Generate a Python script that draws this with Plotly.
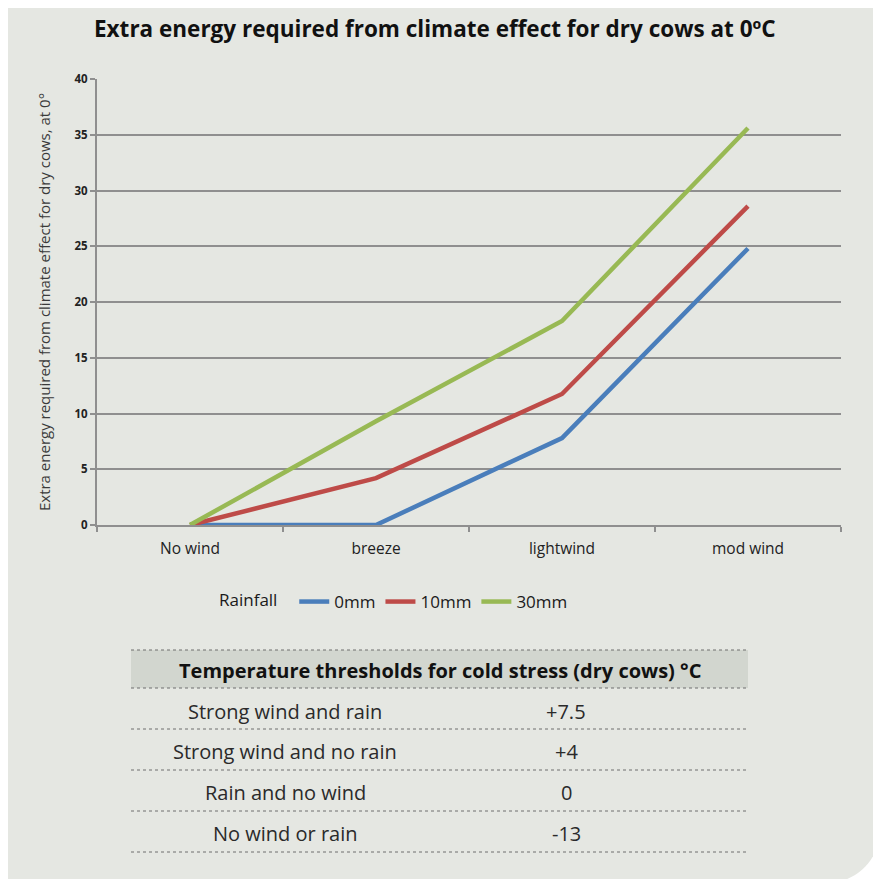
import plotly.graph_objects as go

# page has an 8px body margin, so the figure is drawn 8px in from the window edge
OFF = 8
FW, FH = 881 - OFF, 879 - OFF

# ---------------- data ----------------
categories = ["No wind", "breeze", "lightwind", "mod wind"]
rain_0mm = [0, 0, 7.8, 24.8]
rain_10mm = [0, 4.2, 11.75, 28.6]
rain_30mm = [0, 9.3, 18.3, 35.6]
series_names = ["0mm", "10mm", "30mm"]
series_colors = ["#4a7ebb", "#be4b48", "#98b954"]

table_title = "Temperature thresholds for cold stress (dry cows) °C"
table_conditions = ["Strong wind and rain", "Strong wind and no rain", "Rain and no wind", "No wind or rain"]
table_thresholds = ["+7.5", "+4", "0", "-13"]

chart_title = "Extra energy required from climate effect for dry cows at 0ºC"
y_title = "Extra energy required from climate effect for dry cows, at 0°"

# ---------------- helpers (window pixel -> paper fraction) ----------------
def px(x):
    return (x - OFF) / FW

def py(y):
    return 1 - (y - OFF) / FH

FONT = "Open Sans"
PANEL = "#e5e7e2"
GRID = "#8f8f8f"

fig = go.Figure()
for name, vals, col in zip(series_names, [rain_0mm, rain_10mm, rain_30mm], series_colors):
    fig.add_trace(go.Scatter(x=categories, y=vals, mode="lines", name=name,
                             line=dict(color=col, width=4.5)))

shapes = []
# panel with rounded bottom-right corner
r = 53
k = 0.5523 * r
x0, y0, x1 = 5, 4, 880
cx, cy = x1 - r, 830
path = (f"M {px(x0)},{py(y0)} L {px(x1)},{py(y0)} L {px(x1)},{py(cy)} "
        f"C {px(x1)},{py(cy + k)} {px(cx + k)},{py(cy + r)} {px(cx)},{py(cy + r)} "
        f"L {px(x0)},{py(cy + r)} Z")
shapes.append(dict(type="path", xref="paper", yref="paper", path=path,
                   fillcolor=PANEL, line=dict(width=0), layer="below"))

# table header band and dotted row rules
tx0, tx1 = 131, 748
row_lines = [650, 688, 729, 770, 811, 852]
shapes.append(dict(type="rect", xref="paper", yref="paper",
                   x0=px(tx0), x1=px(tx1), y0=py(row_lines[0]), y1=py(row_lines[1]),
                   fillcolor="#d2d6cf", line=dict(width=0), layer="below"))
for yl in row_lines:
    shapes.append(dict(type="line", xref="paper", yref="paper",
                       x0=px(tx0), x1=px(tx1), y0=py(yl), y1=py(yl),
                       line=dict(color="#6e6e6e", width=1, dash="dot")))

annotations = [
    dict(text=f"<b>{chart_title}</b>", xref="paper", yref="paper", x=px(435), y=py(29),
         showarrow=False, font=dict(family=FONT, size=22.5, color="#111111"),
         xanchor="center", yanchor="middle"),
    dict(text=f"<b>{table_title}</b>", xref="paper", yref="paper", x=px(440), y=py(670),
         showarrow=False, font=dict(family=FONT, size=20, color="#111111"),
         xanchor="center", yanchor="middle"),
]
row_centers = [711, 751, 792, 833]
for cond, thr, yc in zip(table_conditions, table_thresholds, row_centers):
    annotations.append(dict(text=cond, xref="paper", yref="paper", x=px(285), y=py(yc),
                            showarrow=False, font=dict(family=FONT, size=20, color="#2a2a2a"),
                            xanchor="center", yanchor="middle"))
    annotations.append(dict(text=thr, xref="paper", yref="paper", x=px(566), y=py(yc),
                            showarrow=False, font=dict(family=FONT, size=20, color="#2a2a2a"),
                            xanchor="center", yanchor="middle"))

fig.update_layout(
    width=FW, height=FH,
    margin=dict(l=0, r=0, t=0, b=0),
    paper_bgcolor="white", plot_bgcolor="rgba(0,0,0,0)",
    font=dict(family=FONT, color="#222222"),
    shapes=shapes, annotations=annotations,
    showlegend=True,
    legend=dict(orientation="h", x=px(217), y=py(602), xanchor="left", yanchor="middle",
                bgcolor="rgba(0,0,0,0)", font=dict(family=FONT, size=17, color="#1a1a1a"),
                title=dict(text="Rainfall  ", side="left", font=dict(family=FONT, size=17, color="#1a1a1a")),
                itemwidth=30, tracegroupgap=0),
    xaxis=dict(domain=[px(97), px(841)], type="category", categoryorder="array",
               categoryarray=categories, range=[-0.5, 3.5],
               showline=True, linecolor=GRID, linewidth=2,
               ticks="outside", tickson="boundaries", ticklen=5, tickcolor=GRID, tickwidth=1.5,
               showgrid=False, tickfont=dict(family=FONT, size=15.5, color="#222222"),
               ticklabelstandoff=8,
               automargin=False, fixedrange=True),
    yaxis=dict(domain=[py(525), py(79)], range=[0, 40], dtick=5, tick0=0,
               showline=True, linecolor=GRID, linewidth=2,
               ticks="outside", ticklen=5, tickcolor=GRID, tickwidth=1.5,
               showgrid=True, gridcolor=GRID, gridwidth=1.5, zeroline=False,
               tickfont=dict(family=FONT, size=11.5, color="#222222", weight="bold"),
               title=dict(text=y_title, font=dict(family=FONT, size=15, color="#3a3a3a"), standoff=20),
               automargin=False, fixedrange=True),
)

fig.write_html("out.html")
